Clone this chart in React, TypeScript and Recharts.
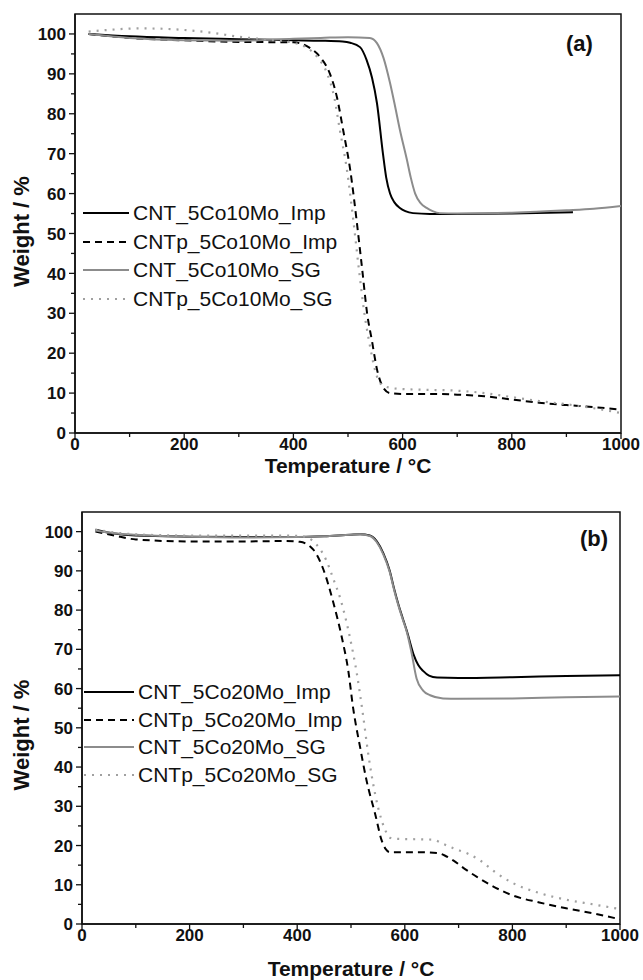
import { Legend, Line, LineChart, ReferenceArea, XAxis, YAxis } from "recharts";

// (a) 10Mo samples: [temperature °C, weight %]
const a_CNT_Imp: [number, number][] = [
  [25, 100], [100, 99.4], [200, 99], [300, 98.7], [400, 98.4], [450, 98.3], [490, 98.1],
  [504, 97.8], [522, 96.7], [534, 93.5], [544, 89], [553, 82.7], [564, 70], [570, 64],
  [577, 60], [585, 57.8], [595, 56.4], [605, 55.6], [619, 55.1], [650, 54.9], [700, 54.9],
  [800, 55], [912, 55.3],
];
const a_CNTp_Imp: [number, number][] = [
  [25, 100], [100, 99], [200, 98.4], [300, 98], [400, 97.9], [430, 96.5], [449, 94.2],
  [467, 90], [480, 84], [491, 76], [504, 66], [516, 53], [526, 41], [535, 30], [544, 23],
  [553, 16], [564, 11.5], [577, 10], [600, 9.8], [650, 9.8], [700, 9.6], [750, 9.2],
  [800, 8.4], [850, 7.6], [900, 7], [950, 6.5], [1000, 5.8],
];
const a_CNT_SG: [number, number][] = [
  [25, 100], [100, 99], [200, 98.4], [300, 98.3], [400, 98.8], [450, 99], [500, 99.2],
  [540, 99], [553, 97.7], [565, 94], [577, 87.7], [586, 82], [595, 76], [608, 68.4],
  [615, 64], [623, 60], [633, 57.6], [644, 56.4], [655, 55.6], [668, 55.1], [700, 55],
  [800, 55.2], [900, 55.8], [950, 56.2], [1000, 56.9],
];
const a_CNTp_SG: [number, number][] = [
  [25, 100.6], [60, 101], [120, 101.4], [200, 101], [250, 100.3], [300, 99.3], [350, 98.6],
  [400, 97.8], [425, 96.5], [445, 94], [462, 90], [475, 84], [485, 76], [498, 66],
  [510, 53], [520, 41], [530, 30], [540, 22], [550, 15.5], [560, 12.3], [575, 11.4],
  [600, 11], [650, 10.8], [700, 10.6], [750, 10], [800, 9], [850, 8], [900, 7.2],
  [950, 6.2], [1000, 5],
];

// (b) 20Mo samples
const b_CNT_Imp: [number, number][] = [
  [25, 100.5], [60, 99.5], [100, 99], [200, 98.7], [300, 98.6], [400, 98.6], [450, 98.8],
  [500, 99.2], [517, 99.3], [535, 99], [548, 97.5], [560, 94.5], [572, 90], [580, 85.5],
  [588, 81.5], [596, 78], [604, 74.6], [616, 68.8], [625, 66], [634, 64.5], [645, 63.3],
  [660, 62.8], [700, 62.7], [800, 62.9], [900, 63.2], [1000, 63.4],
];
const b_CNTp_Imp: [number, number][] = [
  [25, 100], [60, 99], [100, 98], [200, 97.5], [300, 97.5], [380, 97.6], [405, 97.4],
  [430, 95.4], [448, 90.6], [467, 82], [483, 73], [495, 64.5], [504, 55], [517, 45],
  [529, 36.5], [545, 28], [557, 21.3], [565, 19], [572, 18.3], [620, 18.3], [660, 18.1],
  [675, 17.4], [690, 16.2], [712, 14], [734, 12], [760, 9.9], [800, 7.3], [850, 5.5],
  [900, 4], [950, 2.7], [1000, 1.2],
];
const b_CNT_SG: [number, number][] = [
  [25, 100.3], [60, 99.6], [100, 99.2], [200, 98.7], [300, 98.5], [400, 98.6], [450, 98.8],
  [500, 99.2], [517, 99.3], [535, 98.9], [548, 97.3], [560, 94.2], [572, 89.7], [580, 85.2],
  [588, 81.2], [596, 77.7], [604, 74.3], [612, 69.5], [622, 62.5], [634, 59.5], [647, 58.3],
  [671, 57.5], [700, 57.4], [800, 57.5], [900, 57.8], [1000, 58],
];
const b_CNTp_SG: [number, number][] = [
  [25, 100.5], [60, 99.8], [100, 99.3], [200, 99], [300, 99], [380, 99], [410, 98.8],
  [430, 97.5], [455, 92.4], [467, 88], [480, 83], [498, 73], [511, 63.7], [522, 53.6],
  [532, 43.4], [545, 33], [557, 26.4], [565, 23.5], [572, 22], [585, 21.7], [620, 21.6],
  [652, 21.5], [670, 20.5], [690, 19.3], [716, 18], [740, 16.2], [770, 13], [800, 10.5],
  [850, 7.9], [900, 6.2], [950, 5], [1000, 3.8],
];

const namesA = ["CNT_5Co10Mo_Imp", "CNTp_5Co10Mo_Imp", "CNT_5Co10Mo_SG", "CNTp_5Co10Mo_SG"];
const namesB = ["CNT_5Co20Mo_Imp", "CNTp_5Co20Mo_Imp", "CNT_5Co20Mo_SG", "CNTp_5Co20Mo_SG"];

const xTicks = [0, 100, 200, 300, 400, 500, 600, 700, 800, 900, 1000];
const yTicks = [0, 5, 10, 15, 20, 25, 30, 35, 40, 45, 50, 55, 60, 65, 70, 75, 80, 85, 90, 95, 100];

const FONT = "'Liberation Sans', Arial, sans-serif";
const INK = "#111";

const styles = [
  { stroke: "#000", dash: undefined, width: 2 },
  { stroke: "#000", dash: "7 5", width: 2 },
  { stroke: "#8c8c8c", dash: undefined, width: 2 },
  { stroke: "#a0a0a0", dash: "2 6", width: 2.2 },
];

const toPts = (arr: [number, number][]) => arr.map(([t, w]) => ({ t, w }));

function XTick({ x, y, payload }: any) {
  const major = payload.value % 200 === 0;
  return (
    <g>
      <line x1={x} x2={x} y1={y} y2={y + (major ? 6 : 4)} stroke={INK} strokeWidth={1.3} />
      {major && (
        <text x={x} y={y + 5} dy="0.72em" textAnchor="middle" fontFamily={FONT}
          fontWeight={700} fontSize={17} fill={INK}>
          {payload.value}
        </text>
      )}
    </g>
  );
}

function YTick({ x, y, payload }: any) {
  const major = payload.value % 10 === 0;
  return (
    <g>
      <line x1={x - (major ? 6 : 4)} x2={x} y1={y} y2={y} stroke={INK} strokeWidth={1.3} />
      {major && (
        <text x={x - 9} y={y} dy="0.36em" textAnchor="end" fontFamily={FONT}
          fontWeight={700} fontSize={17} fill={INK}>
          {payload.value}
        </text>
      )}
    </g>
  );
}

function makeYLabel(shift: number) {
  return ({ viewBox }: any) => {
    const cx = 21;
    const cy = viewBox.y + viewBox.height / 2 + shift;
    return (
      <text x={cx} y={cy} transform={`rotate(-90 ${cx} ${cy})`} textAnchor="middle"
        dominantBaseline="central" fontFamily={FONT} fontWeight={700} fontSize={22} fill={INK}>
        Weight / %
      </text>
    );
  };
}

function makeLegend(names: string[], textX: number, rowH: number) {
  return () => (
    <div style={{ fontFamily: FONT, fontSize: 21, color: INK }}>
      {names.map((n, i) => (
        <div key={n} style={{ display: "flex", alignItems: "center", height: rowH }}>
          <svg width={textX} height={10} style={{ display: "block" }}>
            <line x1={0} x2={textX - 4} y1={5} y2={5} stroke={styles[i].stroke}
              strokeWidth={styles[i].width} strokeDasharray={styles[i].dash} />
          </svg>
          <span style={{ whiteSpace: "nowrap" }}>{n}</span>
        </div>
      ))}
    </div>
  );
}

function Panel({
  series, names, tag, width, height, margin, yAxisW, xAxisH, legendPos, legendTextX,
  legendRow, yLabelShift, tagPos,
}: any) {
  return (
    <div style={{ position: "relative", width, height }}>
      <LineChart width={width} height={height} margin={margin}>
        <XAxis dataKey="t" type="number" domain={[0, 1000]} ticks={xTicks} interval={0}
          height={xAxisH} tickSize={0} tickMargin={0} tickLine={false} allowDataOverflow
          axisLine={{ stroke: INK, strokeWidth: 1.5 }} tick={<XTick />}
          label={{ value: "Temperature / °C", position: "insideBottom", offset: 0,
            style: { fontFamily: FONT, fontWeight: 700, fontSize: 21, fill: INK } }} />
        <YAxis type="number" domain={[0, 105]} ticks={yTicks} interval={0} width={yAxisW}
          tickSize={0} tickMargin={0} tickLine={false} allowDataOverflow
          axisLine={{ stroke: INK, strokeWidth: 1.5 }} tick={<YTick />}
          label={makeYLabel(yLabelShift)} />
        <ReferenceArea x1={0} x2={1000} y1={0} y2={105} fill="none" stroke={INK}
          strokeWidth={1.5} ifOverflow="visible" />
        {series.map((s: [number, number][], i: number) => (
          <Line key={names[i]} data={toPts(s)} dataKey="w" name={names[i]} type="monotone"
            stroke={styles[i].stroke} strokeWidth={styles[i].width}
            strokeDasharray={styles[i].dash} dot={false} isAnimationActive={false} />
        ))}
        <Legend layout="vertical" align="center" verticalAlign="middle"
          wrapperStyle={{ left: legendPos[0], top: legendPos[1], width: "auto" }}
          content={makeLegend(names, legendTextX, legendRow)} />
      </LineChart>
      <div style={{ position: "absolute", left: tagPos[0], top: tagPos[1], fontFamily: FONT,
        fontWeight: 700, fontSize: 22, color: INK }}>
        {tag}
      </div>
    </div>
  );
}

export default function App() {
  return (
    <div style={{ position: "absolute", left: 0, top: 0, width: 643, height: 980, background: "#fff" }}>
      <Panel series={[a_CNT_Imp, a_CNTp_Imp, a_CNT_SG, a_CNTp_SG]} names={namesA} tag="(a)"
        width={643} height={490} margin={{ top: 14, right: 22, bottom: 17, left: 0 }}
        yAxisW={75} xAxisH={40} legendPos={[83, 199]} legendTextX={50} legendRow={28.5}
        yLabelShift={8} tagPos={[566, 31]} />
      <div style={{ position: "absolute", left: 0, top: 495 }}>
        <Panel series={[b_CNT_Imp, b_CNTp_Imp, b_CNT_SG, b_CNTp_SG]} names={namesB} tag="(b)"
          width={643} height={485} margin={{ top: 17, right: 23, bottom: 4, left: 0 }}
          yAxisW={82} xAxisH={52} legendPos={[84, 183]} legendTextX={54} legendRow={27.7}
          yLabelShift={17} tagPos={[580, 31]} />
      </div>
    </div>
  );
}
